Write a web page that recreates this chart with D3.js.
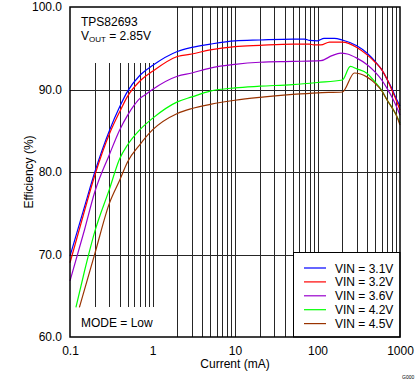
<!DOCTYPE html>
<html>
<head>
<meta charset="utf-8">
<script src="https://cdn.jsdelivr.net/npm/d3@7"></script>
<style>
  body { margin: 0; background: #fff; }
  svg { display: block; font-family: "Liberation Sans", Arial, sans-serif; }
  text { fill: #000; }
</style>
</head>
<body>
<div id="chart"></div>
<script>
// --- data ---
const seriesNames = ["VIN = 3.1V", "VIN = 3.2V", "VIN = 3.6V", "VIN = 4.2V", "VIN = 4.5V"];
const seriesColors = ["#0000ff", "#ff0000", "#9900cc", "#00ff00", "#993300"];

const iBlue = [0.1, 0.15, 0.2, 0.3, 0.4, 0.5, 0.7, 1, 2, 3, 5, 10, 20, 50, 70, 80, 100, 120, 160, 200, 300, 400, 500, 600, 700, 800, 900, 1000];
const effBlue = [69.8, 75.8, 80.0, 85.0, 87.9, 89.8, 91.7, 92.9, 94.6, 95.1, 95.5, 95.9, 96.0, 96.1, 96.1, 95.95, 95.9, 96.2, 96.2, 96.0, 95.3, 94.4, 93.4, 92.4, 91.2, 90.1, 88.9, 88.0];

const iRed = [0.1, 0.15, 0.2, 0.3, 0.4, 0.5, 0.7, 1, 2, 3, 5, 10, 20, 50, 80, 90, 110, 140, 200, 300, 400, 500, 600, 700, 800, 900, 1000];
const effRed = [69.0, 75.3, 79.6, 84.6, 87.3, 89.2, 91.0, 92.2, 94.0, 94.3, 94.8, 95.2, 95.35, 95.5, 95.5, 95.4, 95.4, 95.75, 95.75, 95.1, 94.2, 93.3, 92.4, 91.2, 89.9, 88.7, 87.5];

const iPurple = [0.1, 0.15, 0.2, 0.3, 0.4, 0.5, 0.6, 0.7, 0.8, 1, 2, 3, 5, 10, 20, 50, 110, 150, 190, 230, 300, 400, 500, 600, 700, 800, 900, 1000];
const effPurple = [66.8, 73.0, 77.6, 82.1, 85.1, 86.9, 88.1, 88.9, 89.3, 90.0, 91.6, 92.0, 92.6, 93.05, 93.3, 93.4, 93.5, 94.1, 94.4, 94.3, 93.8, 93.0, 92.1, 91.15, 90.1, 89.05, 88.0, 86.9];

const iGreen = [0.118, 0.15, 0.2, 0.3, 0.4, 0.5, 0.7, 1, 2, 3, 5, 10, 20, 50, 100, 200, 250, 300, 400, 500, 600, 700, 800, 900, 1000];
const effGreen = [63.6, 68.0, 72.8, 77.9, 81.6, 83.3, 85.1, 86.5, 88.5, 89.1, 89.8, 90.2, 90.4, 90.6, 90.85, 91.15, 92.8, 92.5, 91.95, 90.9, 89.9, 88.7, 87.8, 86.9, 85.9];

const iBrown = [0.13, 0.2, 0.3, 0.4, 0.5, 0.7, 1, 2, 3, 5, 10, 20, 50, 100, 200, 280, 400, 500, 600, 700, 800, 900, 1000];
const effBrown = [63.6, 70.1, 76.2, 79.0, 81.25, 83.3, 85.1, 87.1, 87.7, 88.2, 88.7, 89.05, 89.4, 89.6, 89.7, 92.0, 91.5, 90.75, 89.85, 88.7, 87.8, 86.9, 85.7];

const seriesCurrents = [iBlue, iRed, iPurple, iGreen, iBrown];
const seriesEff = [effBlue, effRed, effPurple, effGreen, effBrown];

const xTicks = [0.1, 1, 10, 100, 1000];
const xTickLabels = ["0.1", "1", "10", "100", "1000"];
const yTicks = [60, 70, 80, 90, 100];
const xGridFull = [2, 3, 4, 5, 6, 7, 8, 9, 10, 20, 30, 40, 50, 60, 70, 80, 90, 100, 200, 300, 400, 500, 600, 700, 800, 900];
const xGridShort = [0.2, 0.3, 0.4, 0.5, 0.6, 0.7, 0.8, 0.9, 1];
const yGrid = [70, 80, 90];

// --- layout ---
const WIDTH = 419, HEIGHT = 382;
const MARGIN = {left: 70, right: 19, top: 7, bottom: 45};

const svg = d3.select('#chart').append('svg')
  .attr('width', WIDTH)
  .attr('height', HEIGHT);

const xScale = d3.scaleLog()
  .domain([0.1, 1000])
  .range([MARGIN.left, WIDTH - MARGIN.right]);

const yScale = d3.scaleLinear()
  .domain([60, 100])
  .range([HEIGHT - MARGIN.bottom, MARGIN.top]);

const px = v => Math.round(v) + 0.5;

// gridlines
const gridG = svg.append('g').attr('stroke', '#262626').attr('stroke-width', 1).attr('shape-rendering', 'crispEdges');

gridG.selectAll('line.vfull')
  .data(xGridFull)
  .join('line')
  .attr('x1', d => px(xScale(d))).attr('x2', d => px(xScale(d)))
  .attr('y1', yScale(100)).attr('y2', yScale(60));

// the short minor lines in the first decade
gridG.selectAll('line.vshort')
  .data(xGridShort)
  .join('line')
  .attr('x1', d => px(xScale(d))).attr('x2', d => px(xScale(d)))
  .attr('y1', yScale(93.25)).attr('y2', yScale(63.6));

gridG.selectAll('line.h')
  .data(yGrid)
  .join('line')
  .attr('x1', xScale(0.1)).attr('x2', xScale(1000))
  .attr('y1', d => px(yScale(d))).attr('y2', d => px(yScale(d)));

// curves
const line = d3.line()
  .curve(d3.curveMonotoneX)
  .x(d => xScale(d[0]))
  .y(d => yScale(d[1]));

svg.append('g').selectAll('path')
  .data(seriesNames.map((n, k) => seriesCurrents[k].map((c, j) => [c, seriesEff[k][j]])))
  .join('path')
  .attr('d', line)
  .attr('fill', 'none')
  .attr('stroke', (d, k) => seriesColors[k])
  .attr('stroke-width', 1.2);

// legend
const legendG = svg.append('g');
legendG.append('rect')
  .attr('x', 293.5).attr('y', 252.5)
  .attr('width', xScale(1000) - 293.5).attr('height', yScale(60) - 252.5)
  .attr('fill', '#fff').attr('stroke', '#000').attr('stroke-width', 1);

const rows = legendG.selectAll('g.row')
  .data(seriesNames)
  .join('g')
  .attr('transform', (d, i) => `translate(0, ${268 + i * 13.9})`);
rows.append('line')
  .attr('x1', 304).attr('x2', 326)
  .attr('y1', 0).attr('y2', 0)
  .attr('stroke', (d, i) => seriesColors[i]).attr('stroke-width', 1.2);
rows.append('text')
  .attr('x', 335).attr('y', 4.5)
  .attr('font-size', 12)
  .text(d => d);

// frame
svg.append('rect')
  .attr('x', xScale(0.1)).attr('y', yScale(100))
  .attr('width', xScale(1000) - xScale(0.1))
  .attr('height', yScale(60) - yScale(100))
  .attr('fill', 'none').attr('stroke', '#000').attr('stroke-width', 1.5);

// axes (labels only)
const yAxisG = svg.append('g')
  .attr('transform', `translate(${MARGIN.left}, 0)`)
  .call(d3.axisLeft(yScale).tickValues(yTicks).tickSize(0).tickPadding(8).tickFormat(d3.format('.1f')));
yAxisG.select('.domain').remove();

const xAxisG = svg.append('g')
  .attr('transform', `translate(0, ${HEIGHT - MARGIN.bottom})`)
  .call(d3.axisBottom(xScale).tickValues(xTicks).tickSize(0).tickPadding(9).tickFormat((d, i) => xTickLabels[i]));
xAxisG.select('.domain').remove();

svg.selectAll('.tick text')
  .attr('font-size', 12)
  .attr('font-family', '"Liberation Sans", Arial, sans-serif')
  .attr('fill', '#000');

// titles
svg.append('text')
  .attr('x', 235).attr('y', 368)
  .attr('text-anchor', 'middle')
  .attr('font-size', 12)
  .text('Current (mA)');

svg.append('text')
  .attr('transform', 'translate(33, 172) rotate(-90)')
  .attr('text-anchor', 'middle')
  .attr('font-size', 12)
  .text('Efficiency (%)');

// annotations
svg.append('text')
  .attr('x', 81).attr('y', 26)
  .attr('font-size', 12)
  .text('TPS82693');

const vout = svg.append('text')
  .attr('x', 81).attr('y', 40)
  .attr('font-size', 12);
vout.append('tspan').text('V');
vout.append('tspan').attr('font-size', 8).attr('dy', 2).text('OUT');
vout.append('tspan').attr('dy', -2).text(' = 2.85V');

svg.append('text')
  .attr('x', 81).attr('y', 327)
  .attr('font-size', 12)
  .text('MODE = Low');

svg.append('text')
  .attr('x', 402).attr('y', 379)
  .attr('font-size', 5)
  .text('G000');
</script>
</body>
</html>
